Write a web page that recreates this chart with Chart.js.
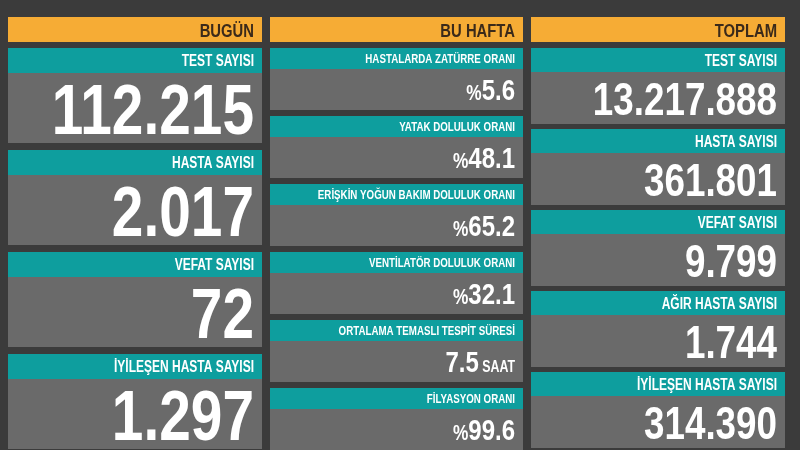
<!DOCTYPE html>
<html>
 <head>
  <meta charset="utf-8" />
  <style>body{margin:0;background:#3b3b3b}</style>
 </head>
 <body>
  <canvas id="board" width="800" height="450"></canvas>
  <script src="https://cdn.jsdelivr.net/npm/chart.js@4/dist/chart.umd.min.js"></script>
  <script>
// data
const headers = ['BUGÜN', 'BU HAFTA', 'TOPLAM'];
const todayLabels = ['TEST SAYISI', 'HASTA SAYISI', 'VEFAT SAYISI', 'İYİLEŞEN HASTA SAYISI'];
const todayValues = ['112.215', '2.017', '72', '1.297'];
const weekLabels = ['HASTALARDA ZATÜRRE ORANI', 'YATAK DOLULUK ORANI', 'ERİŞKİN YOĞUN BAKIM DOLULUK ORANI',
  'VENTİLATÖR DOLULUK ORANI', 'ORTALAMA TEMASLI TESPİT SÜRESİ', 'FİLYASYON ORANI'];
const weekValues = ['5.6', '48.1', '65.2', '32.1', '7.5', '99.6'];
const weekPrefix = ['%', '%', '%', '%', '', '%'];
const weekSuffix = ['', '', '', '', ' SAAT', ''];
const totalLabels = ['TEST SAYISI', 'HASTA SAYISI', 'VEFAT SAYISI', 'AĞIR HASTA SAYISI', 'İYİLEŞEN HASTA SAYISI'];
const totalValues = ['13.217.888', '361.801', '9.799', '1.744', '314.390'];

const FONT = '"Liberation Sans", Arial, sans-serif';
function txt(ctx, s, x, y, size, color, squeeze) {
  ctx.save();
  ctx.font = 'bold ' + size + 'px ' + FONT;
  ctx.fillStyle = color;
  ctx.textAlign = 'right';
  ctx.textBaseline = 'alphabetic';
  ctx.translate(x, y);
  ctx.scale(squeeze, 1);
  ctx.fillText(s, 0, 0);
  const w = ctx.measureText(s).width * squeeze;
  ctx.restore();
  return w;
}

function column(ctx, x, w, top, pitch, teal, gray, labels, values, lSize, vSize, pre, suf) {
  labels.forEach((lab, i) => {
    const y = top + i * pitch;
    ctx.fillStyle = '#0e9e9e';
    ctx.fillRect(x, y, w, teal);
    ctx.fillStyle = '#6a6a6a';
    ctx.fillRect(x, y + teal, w, gray);
    txt(ctx, lab, x + w - 8, y + teal / 2 + lSize * 0.37, lSize, '#ffffff', 0.75);
    let rx = x + w - 8;
    const by = y + teal + gray / 2 + vSize * 0.36;
    if (suf && suf[i]) rx -= txt(ctx, suf[i], rx, by, vSize * 0.55, '#ffffff', 0.75);
    rx -= txt(ctx, values[i], rx, by, vSize, '#ffffff', 0.8);
    if (pre && pre[i]) txt(ctx, pre[i], rx, by, vSize * 0.72, '#ffffff', 0.8);
  });
}

const boardPlugin = {
  id: 'board',
  afterDraw(chart) {
    const ctx = chart.ctx;
    ctx.fillStyle = '#3b3b3b';
    ctx.fillRect(0, 0, 800, 450);
    const cols = [[8, 254], [270, 253], [531, 254]];
    cols.forEach((c, i) => {
      ctx.fillStyle = '#f6ac35';
      ctx.fillRect(c[0], 17, c[1], 25);
      txt(ctx, headers[i], c[0] + c[1] - 8, 37, 19, '#3b2a1a', 0.78);
    });
    column(ctx, 8, 254, 48, 102, 25, 70, todayLabels, todayValues, 16, 71);
    column(ctx, 270, 253, 48, 68, 21, 41, weekLabels, weekValues, 13, 30, weekPrefix, weekSuffix);
    column(ctx, 531, 254, 48, 81, 24, 52, totalLabels, totalValues, 16, 46);
  }
};

new Chart(document.getElementById('board'), {
  type: 'bar',
  data: { labels: [], datasets: [] },
  options: {
    responsive: false, animation: false,
    plugins: { legend: { display: false }, tooltip: { enabled: false } },
    scales: { x: { display: false }, y: { display: false } }
  },
  plugins: [boardPlugin]
});
  </script>
 </body>
</html>
